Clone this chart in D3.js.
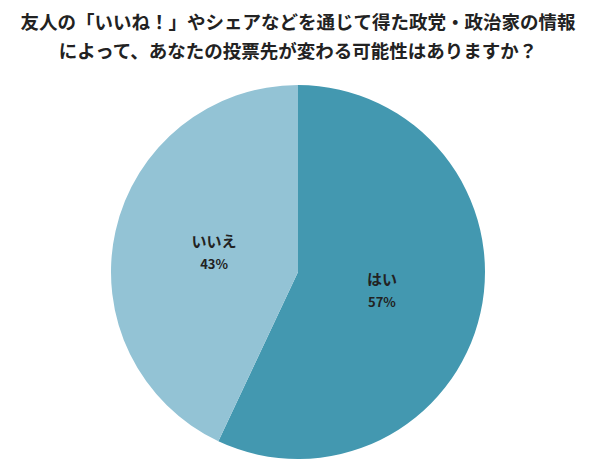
<!DOCTYPE html>
<html><head><meta charset="utf-8">
<script src="https://cdn.jsdelivr.net/npm/d3@7"></script>
<style>body{margin:0;background:#fff}</style></head>
<body><svg id="c" width="595" height="472"></svg>
<script>
const categories = ["はい","いいえ"];
const values = [57,43];
const colors = ["#4398b0","#93c3d5"];
const titleLines = ["友人の「いいね！」やシェアなどを通じて得た政党・政治家の情報","によって、あなたの投票先が変わる可能性はありますか？"];

const svg = d3.select("#c");
const font = "'Noto Sans CJK JP', sans-serif";
svg.selectAll("text.t").data(titleLines).join("text")
  .attr("x",298).attr("y",(d,i)=>29+i*29).attr("text-anchor","middle")
  .attr("font-family",font).attr("font-weight","bold").attr("font-size",18.5).attr("fill","#222")
  .text(d=>d);

const cx=298, cy=272, r=187;
const pie = d3.pie().sort(null)(values);
const arc = d3.arc().innerRadius(0).outerRadius(r);
const g = svg.append("g").attr("transform",`translate(${cx},${cy})`);
g.selectAll("path").data(pie).join("path").attr("d",arc).attr("fill",(d,i)=>colors[i]);
const lab = d3.arc().innerRadius(r*0.46).outerRadius(r*0.46);
pie.forEach((d,i)=>{
  const [x,y]=lab.centroid(d);
  g.append("text").attr("x",x).attr("y",y-6).attr("text-anchor","middle")
    .attr("font-family",font).attr("font-weight","bold").attr("font-size",15).attr("fill","#222").text(categories[i]);
  g.append("text").attr("x",x).attr("y",y+16).attr("text-anchor","middle")
    .attr("font-family",font).attr("font-weight","bold").attr("font-size",13).attr("fill","#222").text(values[i]+"%");
});
</script></body></html>
